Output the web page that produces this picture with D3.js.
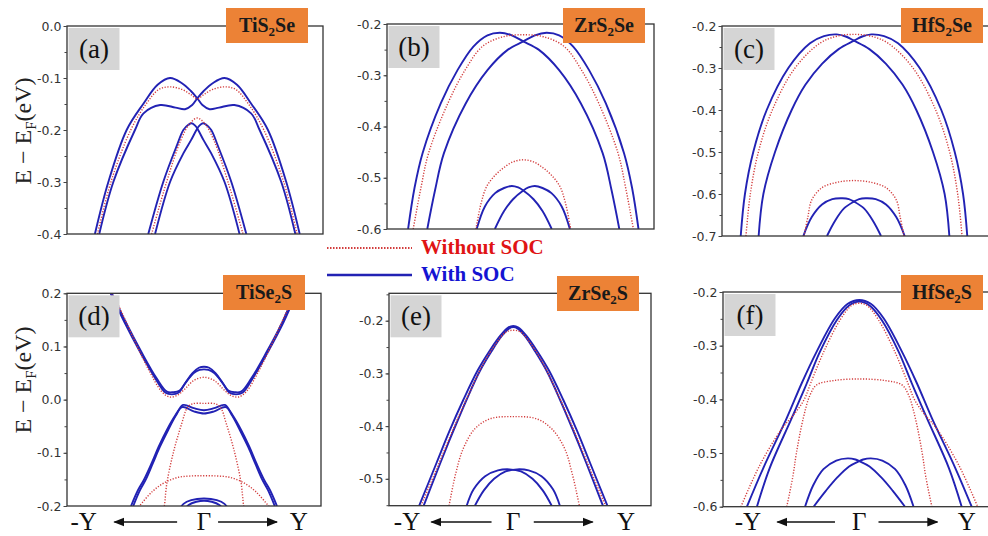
<!DOCTYPE html>
<html>
<head>
<meta charset="utf-8">
<script src="https://cdn.jsdelivr.net/npm/d3@7"></script>
<style>
  body { margin: 0; background: #fff; }
  svg { display: block; }
</style>
</head>
<body>
<div id="chart"></div>
<script>

// (a) TiS2Se
const aSoc = [
  [[-0.80,-0.4],[-0.695,-0.30],[-0.552,-0.2],[-0.42,-0.149],[-0.31,-0.113],[-0.213,-0.1],[-0.12,-0.11],[-0.05,-0.125],[0,-0.139],[0.04,-0.152],[0.096,-0.16],[0.17,-0.157],[0.29,-0.152],[0.42,-0.168],[0.487,-0.2],[0.656,-0.3],[0.766,-0.4]],
  [[-0.766,-0.4],[-0.656,-0.3],[-0.487,-0.2],[-0.42,-0.168],[-0.29,-0.152],[-0.17,-0.157],[-0.096,-0.16],[-0.04,-0.152],[0,-0.139],[0.05,-0.125],[0.12,-0.11],[0.213,-0.1],[0.31,-0.113],[0.42,-0.149],[0.552,-0.2],[0.695,-0.3],[0.80,-0.4]],
  [[-0.383,-0.4],[-0.266,-0.3],[-0.16,-0.23],[-0.109,-0.2],[-0.07,-0.19],[-0.044,-0.187],[-0.015,-0.192],[0,-0.197],[0.05,-0.22],[0.109,-0.245],[0.213,-0.3],[0.33,-0.4]],
  [[-0.33,-0.4],[-0.213,-0.3],[-0.109,-0.245],[-0.05,-0.22],[0,-0.197],[0.015,-0.192],[0.044,-0.187],[0.07,-0.19],[0.109,-0.2],[0.16,-0.23],[0.266,-0.3],[0.383,-0.4]]
];
const aNoSoc = [
  [[-0.78,-0.4],[-0.675,-0.3],[-0.52,-0.2],[-0.40,-0.15],[-0.30,-0.122],[-0.213,-0.117],[-0.12,-0.122],[-0.05,-0.132],[0,-0.14],[0.05,-0.132],[0.12,-0.122],[0.213,-0.117],[0.30,-0.122],[0.40,-0.15],[0.52,-0.2],[0.675,-0.3],[0.78,-0.4]],
  [[-0.357,-0.4],[-0.24,-0.3],[-0.13,-0.22],[-0.06,-0.188],[0,-0.177],[0.06,-0.188],[0.13,-0.22],[0.24,-0.3],[0.357,-0.4]]
];

// (b) ZrS2Se
const bSoc = [
  [[-0.90,-0.6],[-0.85,-0.52],[-0.787,-0.452],[-0.645,-0.355],[-0.514,-0.29],[-0.39,-0.244],[-0.28,-0.222],[-0.182,-0.217],[-0.09,-0.222],[0,-0.234],[0.12,-0.25],[0.28,-0.29],[0.45,-0.355],[0.62,-0.452],[0.69,-0.525],[0.75,-0.6]],
  [[-0.75,-0.6],[-0.69,-0.525],[-0.62,-0.452],[-0.45,-0.355],[-0.28,-0.29],[-0.12,-0.25],[0,-0.234],[0.09,-0.222],[0.182,-0.217],[0.28,-0.222],[0.39,-0.244],[0.514,-0.29],[0.645,-0.355],[0.787,-0.452],[0.85,-0.52],[0.90,-0.6]],
  [[-0.364,-0.6],[-0.30,-0.556],[-0.22,-0.53],[-0.15,-0.52],[-0.09,-0.516],[-0.04,-0.519],[0,-0.525],[0.08,-0.542],[0.15,-0.565],[0.222,-0.6]],
  [[-0.222,-0.6],[-0.15,-0.565],[-0.08,-0.542],[0,-0.525],[0.04,-0.519],[0.09,-0.516],[0.15,-0.52],[0.22,-0.53],[0.30,-0.556],[0.364,-0.6]]
];
const bNoSoc = [
  [[-0.86,-0.6],[-0.80,-0.52],[-0.74,-0.452],[-0.59,-0.355],[-0.455,-0.29],[-0.32,-0.244],[-0.16,-0.225],[0,-0.221],[0.16,-0.225],[0.32,-0.244],[0.455,-0.29],[0.59,-0.355],[0.74,-0.452],[0.80,-0.52],[0.86,-0.6]],
  [[-0.37,-0.6],[-0.33,-0.55],[-0.286,-0.517],[-0.22,-0.495],[-0.156,-0.481],[-0.08,-0.469],[0,-0.465],[0.08,-0.469],[0.156,-0.481],[0.22,-0.495],[0.286,-0.517],[0.33,-0.55],[0.37,-0.6]]
];

// (c) HfS2Se
const cSoc = [
  [[-0.885,-0.7],[-0.852,-0.6],[-0.787,-0.5],[-0.682,-0.4],[-0.513,-0.3],[-0.344,-0.241],[-0.235,-0.224],[-0.135,-0.22],[-0.065,-0.225],[0,-0.235],[0.12,-0.255],[0.25,-0.29],[0.38,-0.34],[0.487,-0.4],[0.617,-0.5],[0.708,-0.6],[0.745,-0.7]],
  [[-0.745,-0.7],[-0.708,-0.6],[-0.617,-0.5],[-0.487,-0.4],[-0.38,-0.34],[-0.25,-0.29],[-0.12,-0.255],[0,-0.235],[0.065,-0.225],[0.135,-0.22],[0.235,-0.224],[0.344,-0.241],[0.513,-0.3],[0.682,-0.4],[0.787,-0.5],[0.852,-0.6],[0.885,-0.7]],
  [[-0.396,-0.7],[-0.33,-0.655],[-0.25,-0.625],[-0.17,-0.612],[-0.09,-0.61],[-0.04,-0.612],[0,-0.618],[0.08,-0.635],[0.15,-0.665],[0.211,-0.7]],
  [[-0.211,-0.7],[-0.15,-0.665],[-0.08,-0.635],[0,-0.618],[0.04,-0.612],[0.09,-0.61],[0.17,-0.612],[0.25,-0.625],[0.33,-0.655],[0.396,-0.7]]
];
const cNoSoc = [
  [[-0.844,-0.7],[-0.81,-0.6],[-0.747,-0.5],[-0.638,-0.4],[-0.461,-0.3],[-0.266,-0.241],[-0.13,-0.224],[0,-0.22],[0.13,-0.224],[0.266,-0.241],[0.461,-0.3],[0.638,-0.4],[0.747,-0.5],[0.81,-0.6],[0.844,-0.7]],
  [[-0.39,-0.7],[-0.36,-0.654],[-0.33,-0.614],[-0.25,-0.585],[-0.13,-0.572],[0,-0.568],[0.13,-0.572],[0.25,-0.585],[0.33,-0.614],[0.36,-0.654],[0.39,-0.7]]
];

// (d) TiSe2S
const dSoc = [
  [[-0.73,0.2],[-0.62,0.145],[-0.50,0.09],[-0.38,0.04],[-0.30,0.013],[-0.25,0.01],[-0.20,0.013],[-0.15,0.03],[-0.09,0.05],[-0.04,0.06],[0,0.062],[0.04,0.06],[0.09,0.05],[0.15,0.03],[0.20,0.013],[0.25,0.01],[0.30,0.013],[0.38,0.04],[0.50,0.09],[0.62,0.145],[0.72,0.2]],
  [[-0.72,0.2],[-0.61,0.145],[-0.49,0.09],[-0.37,0.04],[-0.29,0.015],[-0.24,0.014],[-0.19,0.017],[-0.14,0.033],[-0.08,0.05],[-0.035,0.056],[0,0.057],[0.035,0.056],[0.08,0.05],[0.14,0.033],[0.19,0.017],[0.24,0.014],[0.29,0.015],[0.37,0.04],[0.49,0.09],[0.61,0.145],[0.71,0.2]],
  [[-0.553,-0.2],[-0.50,-0.17],[-0.456,-0.151],[-0.40,-0.12],[-0.345,-0.089],[-0.28,-0.057],[-0.22,-0.03],[-0.163,-0.01],[-0.08,-0.016],[0,-0.02],[0.08,-0.016],[0.163,-0.01],[0.22,-0.03],[0.28,-0.057],[0.345,-0.089],[0.40,-0.12],[0.456,-0.151],[0.50,-0.17],[0.553,-0.2]],
  [[-0.57,-0.2],[-0.515,-0.17],[-0.47,-0.151],[-0.41,-0.12],[-0.355,-0.089],[-0.29,-0.057],[-0.225,-0.03],[-0.17,-0.014],[-0.08,-0.022],[0,-0.026],[0.08,-0.022],[0.17,-0.014],[0.225,-0.03],[0.29,-0.057],[0.355,-0.089],[0.41,-0.12],[0.47,-0.151],[0.515,-0.17],[0.57,-0.2]],
  [[-0.20,-0.21],[-0.16,-0.196],[-0.10,-0.189],[0,-0.186],[0.10,-0.189],[0.16,-0.196],[0.20,-0.21]],
  [[-0.16,-0.21],[-0.12,-0.198],[-0.06,-0.192],[0,-0.19],[0.06,-0.192],[0.12,-0.198],[0.16,-0.21]]
];
const dNoSoc = [
  [[-0.72,0.2],[-0.67,0.178],[-0.55,0.115],[-0.43,0.055],[-0.33,0.015],[-0.27,0.005],[-0.21,0.008],[-0.15,0.02],[-0.08,0.036],[0,0.042],[0.08,0.036],[0.15,0.02],[0.21,0.008],[0.27,0.005],[0.33,0.015],[0.43,0.055],[0.55,0.115],[0.67,0.178],[0.72,0.2]],
  [[-0.32,-0.21],[-0.31,-0.2],[-0.29,-0.157],[-0.24,-0.1],[-0.174,-0.045],[-0.13,-0.015],[-0.09,-0.008],[0,-0.007],[0.09,-0.008],[0.13,-0.015],[0.174,-0.045],[0.24,-0.1],[0.29,-0.157],[0.31,-0.2],[0.32,-0.21]],
  [[-0.54,-0.21],[-0.505,-0.2],[-0.40,-0.172],[-0.30,-0.155],[-0.2,-0.146],[-0.1,-0.1435],[0,-0.143],[0.1,-0.1435],[0.2,-0.146],[0.30,-0.155],[0.40,-0.172],[0.505,-0.2],[0.54,-0.21]]
];

// (e) ZrSe2S
const eSoc = [
  [[-0.735,-0.551],[-0.60,-0.47],[-0.50,-0.41],[-0.39,-0.35],[-0.28,-0.295],[-0.182,-0.256],[-0.10,-0.228],[-0.04,-0.213],[0,-0.21],[0.04,-0.213],[0.10,-0.228],[0.182,-0.256],[0.28,-0.295],[0.39,-0.35],[0.50,-0.41],[0.60,-0.47],[0.735,-0.551]],
  [[-0.70,-0.551],[-0.57,-0.47],[-0.47,-0.41],[-0.365,-0.35],[-0.26,-0.295],[-0.17,-0.258],[-0.09,-0.229],[-0.035,-0.215],[0,-0.212],[0.035,-0.215],[0.09,-0.229],[0.17,-0.258],[0.26,-0.295],[0.365,-0.35],[0.47,-0.41],[0.57,-0.47],[0.70,-0.551]],
  [[-0.364,-0.551],[-0.31,-0.52],[-0.22,-0.495],[-0.12,-0.484],[-0.03,-0.482],[0.06,-0.486],[0.15,-0.5],[0.23,-0.522],[0.30,-0.551]],
  [[-0.30,-0.551],[-0.23,-0.522],[-0.15,-0.5],[-0.06,-0.486],[0.03,-0.482],[0.12,-0.484],[0.22,-0.495],[0.31,-0.52],[0.364,-0.551]]
];
const eNoSoc = [
  [[-0.72,-0.551],[-0.58,-0.47],[-0.46,-0.40],[-0.34,-0.335],[-0.23,-0.28],[-0.14,-0.245],[-0.06,-0.222],[0,-0.218],[0.06,-0.222],[0.14,-0.245],[0.23,-0.28],[0.34,-0.335],[0.46,-0.40],[0.58,-0.47],[0.72,-0.551]],
  [[-0.502,-0.551],[-0.45,-0.49],[-0.39,-0.442],[-0.30,-0.405],[-0.18,-0.386],[0,-0.382],[0.18,-0.386],[0.30,-0.405],[0.40,-0.442],[0.46,-0.49],[0.516,-0.551]]
];

// (f) HfSe2S
const fSoc = [
  [[-0.878,-0.6],[-0.75,-0.528],[-0.567,-0.435],[-0.45,-0.37],[-0.333,-0.311],[-0.19,-0.249],[-0.09,-0.222],[0,-0.215],[0.09,-0.222],[0.19,-0.249],[0.333,-0.311],[0.45,-0.37],[0.567,-0.435],[0.75,-0.528],[0.878,-0.6]],
  [[-0.80,-0.6],[-0.70,-0.528],[-0.528,-0.435],[-0.41,-0.37],[-0.307,-0.311],[-0.175,-0.252],[-0.08,-0.225],[0,-0.218],[0.08,-0.225],[0.175,-0.252],[0.307,-0.311],[0.41,-0.37],[0.528,-0.435],[0.70,-0.528],[0.80,-0.6]],
  [[-0.424,-0.6],[-0.36,-0.56],[-0.28,-0.53],[-0.18,-0.514],[-0.09,-0.51],[-0.03,-0.512],[0,-0.515],[0.08,-0.525],[0.17,-0.545],[0.26,-0.57],[0.357,-0.6]],
  [[-0.357,-0.6],[-0.26,-0.57],[-0.17,-0.545],[-0.08,-0.525],[0,-0.515],[0.03,-0.512],[0.09,-0.51],[0.18,-0.514],[0.28,-0.53],[0.36,-0.56],[0.424,-0.6]]
];
const fNoSoc = [
  [[-0.925,-0.6],[-0.776,-0.522],[-0.606,-0.455],[-0.50,-0.425],[-0.43,-0.40],[-0.38,-0.37],[-0.277,-0.311],[-0.15,-0.252],[-0.06,-0.225],[0,-0.221],[0.06,-0.225],[0.15,-0.252],[0.277,-0.311],[0.38,-0.37],[0.43,-0.40],[0.50,-0.425],[0.606,-0.455],[0.776,-0.522],[0.925,-0.6]],
  [[-0.567,-0.6],[-0.52,-0.545],[-0.49,-0.498],[-0.4375,-0.435],[-0.385,-0.392],[-0.333,-0.373],[-0.2,-0.365],[0,-0.362],[0.2,-0.365],[0.333,-0.373],[0.385,-0.392],[0.4375,-0.435],[0.49,-0.498],[0.52,-0.545],[0.567,-0.6]]
];

// axis ticks
const yTicksA = [0, -0.1, -0.2, -0.3, -0.4];
const yTicksB = [-0.2, -0.3, -0.4, -0.5, -0.6];
const yTicksC = [-0.2, -0.3, -0.4, -0.5, -0.6, -0.7];
const yTicksD = [0.2, 0.1, 0, -0.1, -0.2];
const yTicksE = [-0.2, -0.3, -0.4, -0.5];
const yTicksF = [-0.2, -0.3, -0.4, -0.5, -0.6];
const kLabels = ["-Y", "\u0393", "Y"];
const legendLabels = ["Without SOC", "With SOC"];

const panels = [
  { key: "a", tag: ["TiS", "2", "Se"], soc: aSoc, nosoc: aNoSoc, yDomain: [-0.4, 0], yTicks: yTicksA,
    left: 67, right: 323, top: 26, bottom: 234, gamma: 197.3, tagX: 226, tagY: 8 },
  { key: "b", tag: ["ZrS", "2", "Se"], soc: bSoc, nosoc: bNoSoc, yDomain: [-0.6, -0.2], yTicks: yTicksB,
    left: 387, right: 654, top: 24, bottom: 229, gamma: 523.3, tagX: 563, tagY: 8 },
  { key: "c", tag: ["HfS", "2", "Se"], soc: cSoc, nosoc: cNoSoc, yDomain: [-0.7, -0.2], yTicks: yTicksC,
    left: 722, right: 995, top: 26, bottom: 236, gamma: 854, tagX: 901, tagY: 8 },
  { key: "d", tag: ["TiSe", "2", "S"], soc: dSoc, nosoc: dNoSoc, yDomain: [-0.2, 0.2], yTicks: yTicksD,
    left: 67, right: 321, top: 293.3, bottom: 506, gamma: 204, tagX: 223, tagY: 275,
    bottomRow: true, labelK: [-0.94, 0, 0.74], arrowK: [-0.21, -0.70, 0.11, 0.57] },
  { key: "e", tag: ["ZrSe", "2", "S"], soc: eSoc, nosoc: eNoSoc, yDomain: [-0.551, -0.148], yTicks: yTicksE,
    left: 389, right: 651, top: 293.3, bottom: 505.7, gamma: 513.3, tagX: 557, tagY: 276,
    bottomRow: true, labelK: [-0.83, 0, 0.88], arrowK: [-0.17, -0.64, 0.16, 0.62] },
  { key: "f", tag: ["HfSe", "2", "S"], soc: fSoc, nosoc: fNoSoc, yDomain: [-0.6, -0.2], yTicks: yTicksF,
    left: 723, right: 995, top: 292, bottom: 506.7, gamma: 859.3, tagX: 901, tagY: 275,
    bottomRow: true, labelK: [-0.87, 0, 0.84], arrowK: [-0.19, -0.64, 0.15, 0.61] }
];

const blue = "#2222b4";
const red = "#d23c3c";

const svg = d3.select("#chart").append("svg")
  .attr("width", 988)
  .attr("height", 536)
  .style("font-family", "'Liberation Serif', 'Times New Roman', serif");

const defs = svg.append("defs");
defs.append("marker")
  .attr("id", "arrow")
  .attr("viewBox", "0 0 10 10")
  .attr("refX", 9).attr("refY", 5)
  .attr("markerWidth", 7).attr("markerHeight", 7)
  .attr("orient", "auto")
  .append("path")
  .attr("d", "M0,1 L10,5 L0,9 Z")
  .attr("fill", "#111");

function drawPanel(p) {
  const x = d3.scaleLinear().domain([-1, 1]).range([p.gamma - 128, p.gamma + 128]);
  const y = d3.scaleLinear().domain(p.yDomain).range([p.bottom, p.top]);
  const g = svg.append("g");

  defs.append("clipPath").attr("id", "clip-" + p.key)
    .append("rect")
    .attr("x", p.left).attr("y", p.top)
    .attr("width", p.right - p.left).attr("height", p.bottom - p.top);

  const line = d3.line()
    .x(d => x(d[0]))
    .y(d => y(d[1]))
    .curve(d3.curveCatmullRom.alpha(0.5));

  const plot = g.append("g").attr("clip-path", `url(#clip-${p.key})`);

  plot.selectAll(".soc")
    .data(p.soc)
    .enter()
    .append("path")
    .attr("class", "soc")
    .attr("d", line)
    .attr("fill", "none")
    .attr("stroke", blue)
    .attr("stroke-width", 1.9);

  plot.selectAll(".nosoc")
    .data(p.nosoc)
    .enter()
    .append("path")
    .attr("class", "nosoc")
    .attr("d", line)
    .attr("fill", "none")
    .attr("stroke", red)
    .attr("stroke-width", 1.4)
    .attr("stroke-dasharray", "1.2,1.6");

  // frame
  g.append("rect")
    .attr("x", p.left).attr("y", p.top)
    .attr("width", p.right - p.left).attr("height", p.bottom - p.top)
    .attr("fill", "none")
    .attr("stroke", "#333")
    .attr("stroke-width", 1.3);

  // minor ticks every 0.05
  const minor = d3.range(-0.7, 0.201, 0.05)
    .map(v => +v.toFixed(2))
    .filter(v => v >= p.yDomain[0] - 1e-6 && v <= p.yDomain[1] + 1e-6);

  const minorAxis = g.append("g")
    .attr("transform", `translate(${p.left},0)`)
    .call(d3.axisLeft(y).tickValues(minor).tickSize(2.5).tickFormat(""));
  minorAxis.select(".domain").remove();
  minorAxis.selectAll(".tick line").attr("stroke", "#444");

  const yAxis = g.append("g")
    .attr("transform", `translate(${p.left},0)`)
    .call(d3.axisLeft(y).tickValues(p.yTicks).tickSize(3.5).tickPadding(2)
      .tickFormat(d => d.toFixed(1)));
  yAxis.select(".domain").remove();
  yAxis.selectAll(".tick line").attr("stroke", "#444");
  yAxis.selectAll(".tick text")
    .style("font-family", "'DejaVu Sans', sans-serif")
    .style("font-size", "12.5px")
    .attr("fill", "#333");

  // grey panel letter
  g.append("rect")
    .attr("x", p.left + 1.5).attr("y", p.top + 2)
    .attr("width", 51).attr("height", 42)
    .attr("fill", "#d5d5d5");
  g.append("text")
    .attr("x", p.left + 27).attr("y", p.top + 32)
    .attr("text-anchor", "middle")
    .style("font-size", "27px")
    .attr("fill", "#111")
    .text(`(${p.key})`);

  // orange compound tag
  g.append("rect")
    .attr("x", p.tagX).attr("y", p.tagY)
    .attr("width", 82).attr("height", 35)
    .attr("fill", "#ec8236");
  const t = g.append("text")
    .attr("x", p.tagX + 41).attr("y", p.tagY + 24)
    .attr("text-anchor", "middle")
    .style("font-size", "20px")
    .style("font-weight", "bold")
    .attr("fill", "#1a1a1a");
  t.append("tspan").text(p.tag[0]);
  t.append("tspan").attr("dy", 4).style("font-size", "13px").text(p.tag[1]);
  t.append("tspan").attr("dy", -4).text(p.tag[2]);

  if (p.bottomRow) {
    const ly = 522;
    g.selectAll(".klabel")
      .data(kLabels)
      .enter()
      .append("text")
      .attr("class", "klabel")
      .attr("x", (d, i) => x(p.labelK[i]))
      .attr("y", 530)
      .attr("text-anchor", "middle")
      .style("font-size", "25px")
      .attr("fill", "#111")
      .text(d => d);
    g.append("line")
      .attr("x1", x(p.arrowK[0])).attr("x2", x(p.arrowK[1])).attr("y1", ly).attr("y2", ly)
      .attr("stroke", "#111").attr("stroke-width", 1.6)
      .attr("marker-end", "url(#arrow)");
    g.append("line")
      .attr("x1", x(p.arrowK[2])).attr("x2", x(p.arrowK[3])).attr("y1", ly).attr("y2", ly)
      .attr("stroke", "#111").attr("stroke-width", 1.6)
      .attr("marker-end", "url(#arrow)");
  }
}

panels.forEach(drawPanel);

// y axis titles
[131, 380].forEach(cy => {
  const yl = svg.append("text")
    .attr("transform", `translate(23,${cy}) rotate(-90)`)
    .attr("text-anchor", "middle")
    .attr("dy", "0.35em")
    .style("font-size", "24px")
    .attr("fill", "#222");
  yl.append("tspan").text("E \u2212 E");
  yl.append("tspan").attr("dy", 5).style("font-size", "15px").text("F");
  yl.append("tspan").attr("dy", -5).text("(eV)");
});

// legend
const legend = svg.append("g");
legend.append("line")
  .attr("x1", 327).attr("x2", 412).attr("y1", 248).attr("y2", 248)
  .attr("stroke", red).attr("stroke-width", 2).attr("stroke-dasharray", "1.5,1.5");
legend.append("line")
  .attr("x1", 327).attr("x2", 412).attr("y1", 275).attr("y2", 275)
  .attr("stroke", blue).attr("stroke-width", 2.6);
legend.append("text")
  .attr("x", 421).attr("y", 254)
  .style("font-size", "21px").style("font-weight", "bold")
  .attr("fill", "#e01414")
  .text(legendLabels[0]);
legend.append("text")
  .attr("x", 421).attr("y", 281)
  .style("font-size", "21px").style("font-weight", "bold")
  .attr("fill", "#1414d2")
  .text(legendLabels[1]);
</script>
</body>
</html>
